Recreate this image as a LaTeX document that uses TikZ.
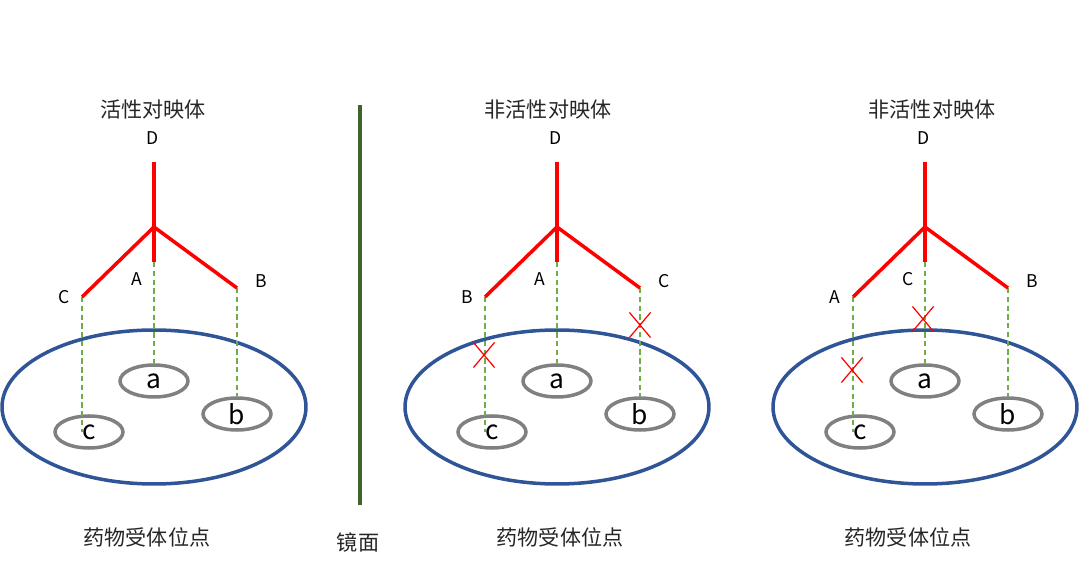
\documentclass[tikz,border=0pt]{standalone}
\usepackage{fontspec}
\setmainfont{Noto Sans CJK SC}
\usetikzlibrary{shapes.geometric,shapes.misc}
\definecolor{armred}{RGB}{255,0,0}
\definecolor{siteblue}{RGB}{47,85,151}
\definecolor{pocketgray}{RGB}{128,128,128}
\definecolor{bondgreen}{RGB}{112,173,71}
\definecolor{mirrorgreen}{RGB}{62,100,40}

\begin{document}
\begin{tikzpicture}[x=0.02cm,y=-0.02cm,
    every node/.style={inner sep=0pt},
    caption/.style={font=\fontsize{12pt}{14pt}\selectfont,text=black!85},
    atom/.style={font=\fontsize{10pt}{11pt}\selectfont},
    arm/.style={armred,line width=2pt},
    site/.style={ellipse,draw=siteblue,line width=2pt,minimum width=6.08cm,minimum height=3.08cm},
    pocket/.style={ellipse,draw=pocketgray,line width=2pt,minimum width=1.36cm,minimum height=0.64cm,
      font=\fontsize{15pt}{16pt}\selectfont},
    bond/.style={bondgreen,line width=0.7pt,dash pattern=on 3pt off 2pt},
    nofit/.style={cross out,draw=armred,line width=0.7pt,minimum width=0.4cm,minimum height=0.48cm}]
  \useasboundingbox (0,0) rectangle (1080,567);

  % the three molecules over their receptor sites
  \foreach \cx/\n/\l/\m/\r in {154/1/C/A/B,557/2/B/A/C,925/3/A/C/B}{
    \node[site] (site\n) at (\cx,407) {};
    \node[pocket] (pa\n) at (\cx,381) {a};
    \node[pocket] (pb\n) at (\cx+83,414) {b};
    \node[pocket] (pc\n) at (\cx-65,432) {c};
    \coordinate (top\n) at (\cx,162);
    \coordinate (fork\n) at (\cx,227);
    \coordinate (mid\n) at (\cx,262);
    \coordinate (left\n) at (\cx-72,297);
    \coordinate (right\n) at (\cx+83,288);
    \draw[bond] (left\n) -- (left\n |- pc\n.center);
    \draw[bond] (mid\n) -- (pa\n.north);
    \draw[bond] (right\n) -- (pb\n.north);
    \draw[arm] (top\n) -- (fork\n) -- (mid\n);
    \draw[arm] (left\n) -- (fork\n) -- (right\n);
    \node[atom] (D\n) at (\cx-1,138) {D};
    \node[atom] (L\n) at (\cx-90,297) {\l};
    \node[atom] (M\n) at (\cx-17,279) {\m};
    \node[atom] (R\n) at (\cx+107,281) {\r};
  }

  % captions
  \node[caption] (title1) at (153,110) {活性对映体};
  \node[caption] (title2) at (548,110) {非活性对映体};
  \node[caption] (title3) at (932,110) {非活性对映体};
  \node[caption] (recep1) at (147,537) {药物受体位点};
  \node[caption] (recep2) at (560,537) {药物受体位点};
  \node[caption] (recep3) at (908,537) {药物受体位点};

  % mirror
  \coordinate (mirrortop) at (360,105);
  \coordinate (mirrorbot) at (360,505);
  \draw[mirrorgreen,line width=2pt] (mirrortop) -- (mirrorbot);
  \node[caption] (mirror) at (358,542) {镜面};

  % misfits
  \node[nofit] (miss2l) at (484,355) {};
  \node[nofit] (miss2r) at (640,325) {};
  \node[nofit] (miss3l) at (852,370) {};
  \node[nofit] (miss3m) at (923,319) {};
\end{tikzpicture}
\end{document}
